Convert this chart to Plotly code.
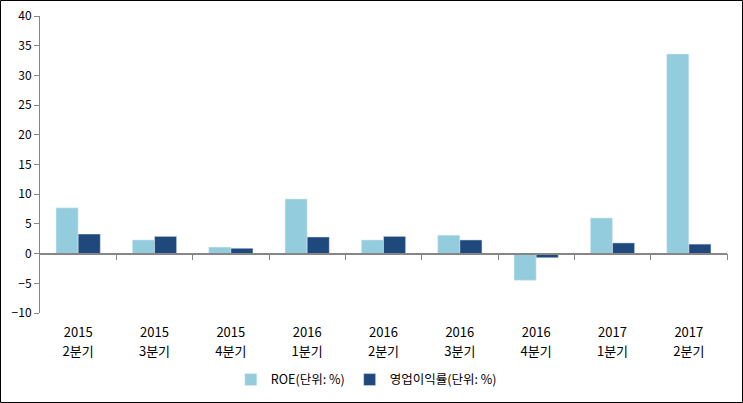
import plotly.graph_objects as go

years = ["2015", "2015", "2015", "2016", "2016", "2016", "2016", "2017", "2017"]
quarters = ["2분기", "3분기", "4분기", "1분기", "2분기", "3분기", "4분기", "1분기", "2분기"]
roe = [7.7, 2.3, 1.1, 9.2, 2.3, 3.1, -4.5, 6.0, 33.6]
op_margin = [3.3, 2.9, 0.9, 2.8, 2.9, 2.3, -0.7, 1.8, 1.6]
y_ticks = [-10, -5, 0, 5, 10, 15, 20, 25, 30, 35, 40]

idx = list(range(len(years)))

W, H = 743, 403
ml, mr, mt, mb = 40, 16, 16, 90
pw, ph = W - ml - mr, H - mt - mb
ymin, ymax = -10, 40
font = "Noto Sans CJK KR, Verdana, sans-serif"

fig = go.Figure()
fig.add_trace(go.Bar(x=idx, y=roe, name="ROE(단위: %)", marker_color="#93CDDD"))
fig.add_trace(go.Bar(x=idx, y=op_margin, name="영업이익률(단위: %)", marker_color="#1F497D"))
# invisible carrier traces so the label axes are drawn
fig.add_trace(go.Scatter(x=idx, y=[None] * len(idx), xaxis="x2", showlegend=False,
                         hoverinfo="skip", mode="markers"))
fig.add_trace(go.Scatter(x=idx, y=[None] * len(idx), xaxis="x3", showlegend=False,
                         hoverinfo="skip", mode="markers"))

zero_pos = (0 - ymin) / (ymax - ymin)

label_axis = dict(
    overlaying="x", anchor="y", side="bottom",
    range=[-0.5, len(idx) - 0.5], tickmode="array", tickvals=idx,
    showline=False, ticks="", showgrid=False, zeroline=False,
    tickfont=dict(size=13, family=font), automargin=False,
)

fig.update_layout(
    width=W, height=H,
    margin=dict(l=ml, r=mr, t=mt, b=mb, autoexpand=False),
    paper_bgcolor="white", plot_bgcolor="white",
    barmode="group", bargap=0.42, bargroupgap=0,
    font=dict(family=font, size=12, color="#000000"),
    showlegend=True,
    legend=dict(orientation="h", x=0.475, xanchor="center", y=-0.175, yanchor="top",
                font=dict(size=12.5, family=font), traceorder="normal"),
    xaxis=dict(
        range=[-0.5, len(idx) - 0.5], anchor="free", position=zero_pos,
        showline=True, linecolor="#868686", linewidth=1.5,
        tickmode="array", tickvals=[i + 0.5 for i in idx],
        ticks="outside", ticklen=6, tickcolor="#868686",
        showticklabels=False, showgrid=False, zeroline=False, automargin=False,
    ),
    xaxis2=dict(label_axis, ticktext=years, ticklabelstandoff=10),
    xaxis3=dict(label_axis, ticktext=quarters, ticklabelstandoff=29),
    yaxis=dict(
        range=[ymin, ymax], tickvals=y_ticks, showline=True, linecolor="#868686",
        linewidth=1, ticks="outside", ticklen=5, tickcolor="#868686",
        showgrid=False, zeroline=False, tickfont=dict(size=12, family=font),
        automargin=False,
    ),
    shapes=[dict(type="rect", xref="paper", yref="paper",
                 x0=-(ml - 0.5) / pw, x1=1 + (mr - 0.5) / pw,
                 y0=-(mb - 0.5) / ph, y1=1 + (mt - 0.5) / ph,
                 line=dict(color="#000000", width=1), fillcolor="rgba(0,0,0,0)")],
)
fig.write_html("out.html", config={"displayModeBar": False},
               post_script="document.body.style.margin='0';")
